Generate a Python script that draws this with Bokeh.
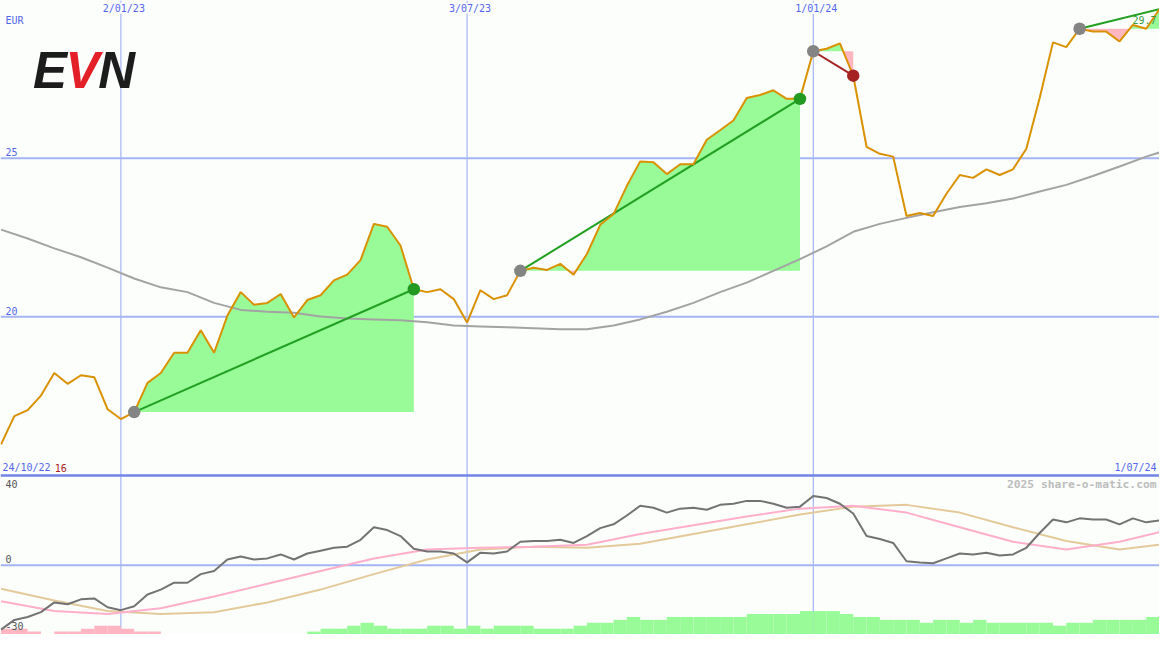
import numpy as np
import pandas as pd
from bokeh.plotting import figure
from bokeh.models import Range1d, Span, Label
from bokeh.embed import file_html
from bokeh.resources import INLINE

# ---------------- data ----------------
start_date = "2022-10-31"          # weekly closes (Mondays)
price = [15.98, 16.87, 17.06, 17.52, 18.23, 17.89, 18.16, 18.10, 17.09, 16.78,
         17.00, 17.92, 18.23, 18.87, 18.87, 19.58, 18.87, 20.04, 20.78, 20.38,
         20.44, 20.72, 19.98, 20.53, 20.68, 21.15, 21.33, 21.79, 22.93, 22.84,
         22.25, 20.87, 20.78, 20.87, 20.56, 19.82, 20.84, 20.56, 20.68, 21.45,
         21.55, 21.48, 21.67, 21.33, 21.98, 22.90, 23.24, 24.13, 24.90, 24.87,
         24.50, 24.81, 24.81, 25.58, 25.88, 26.19, 26.90, 26.99, 27.14, 26.87,
         26.87, 28.37, 28.45, 28.62, 27.60, 25.36, 25.14, 25.05, 23.18, 23.27,
         23.18, 23.88, 24.47, 24.38, 24.65, 24.47, 24.65, 25.30, 26.90, 28.65,
         28.50, 29.08, 28.99, 28.99, 28.68, 29.20, 29.08, 29.70]

# long moving average (every second week + last week)
ma = [22.75, 22.47, 22.16, 21.88, 21.55, 21.21, 20.93, 20.78, 20.44, 20.22,
      20.16, 20.13, 20.01, 19.95, 19.92, 19.89, 19.83, 19.73, 19.70, 19.67,
      19.64, 19.61, 19.61, 19.73, 19.92, 20.16, 20.44, 20.78, 21.08, 21.45,
      21.82, 22.22, 22.68, 22.93, 23.12, 23.30, 23.46, 23.58, 23.73, 23.95,
      24.16, 24.44, 24.74, 25.05, 25.18]

# trades
trade_start = ["2023-01-09", "2023-07-31", "2024-01-01", "2024-05-20"]
trade_end = ["2023-06-05", "2023-12-25", "2024-01-22", "2024-07-01"]
trade_result = ["win", "win", "loss", "open"]

# lower panel indicator (weekly)
osc = [-29.1, -24.7, -23.4, -21.2, -16.8, -17.6, -15.4, -15.0, -19.0, -20.3,
       -18.5, -13.2, -11.0, -7.9, -7.9, -4.0, -2.6, 2.6, 4.0, 2.6,
       3.1, 4.9, 2.6, 5.3, 6.6, 7.9, 8.4, 11.5, 17.2, 15.9,
       13.2, 7.5, 6.2, 6.2, 5.3, 1.3, 5.7, 5.3, 6.2, 10.6,
       11.0, 11.0, 11.5, 10.1, 13.2, 16.8, 18.5, 22.5, 26.9, 26.0,
       23.8, 25.6, 26.0, 25.1, 27.3, 27.8, 29.1, 29.1, 27.8, 26.0,
       26.5, 31.3, 30.4, 27.8, 23.4, 13.2, 11.9, 10.1, 1.8, 1.3,
       0.9, 3.1, 5.3, 4.9, 5.7, 4.4, 4.9, 7.9, 14.6, 20.7,
       19.4, 21.2, 20.7, 20.7, 18.5, 21.2, 19.4, 20.3]
# signal lines (every fourth week + last week)
sig_fast = [-16.3, -20.7, -22.0, -19.4, -14.1, -8.4, -2.6, 3.1, 7.1, 7.9, 8.4, 9.3,
            14.1, 18.1, 22.0, 25.6, 26.9, 23.8, 17.2, 10.6, 7.1, 10.6, 15.0]
sig_slow = [-10.6, -15.9, -20.7, -22.0, -21.2, -16.8, -11.0, -4.0, 2.6, 7.1, 8.4, 7.9,
            9.7, 14.1, 18.5, 22.9, 26.5, 27.3, 23.8, 17.2, 11.0, 7.1, 9.3]
# histogram (weekly, signed)
hist = [-2, -2, -1, 0, -1, -1, -2, -3, -3, -2, -1, -1,
        0, 0, 0, 0, 0, 0, 0, 0, 0, 0, 0,
        1, 2, 2, 3, 4, 3, 2, 2, 2, 3, 3, 2, 3, 2, 3, 3, 3, 2, 2, 2, 3, 4, 4, 5, 6, 5, 5,
        6, 6, 6, 6, 6, 6, 7, 7, 7, 7, 8, 8, 8, 7, 6, 6, 5, 5, 5, 4, 5, 5, 4, 5,
        4, 4, 4, 4, 4, 3, 4, 4, 5, 5, 5, 5, 6, 6]

grid_dates = ["2023-01-02", "2023-07-03", "2024-01-01"]
grid_labels = ["2/01/23", "3/07/23", "1/01/24"]
price_ticks = [25, 20]
ind_ticks = [40, 0, -30]
currency = "EUR"
period_start_label, period_end_label, n_label = "24/10/22", "1/07/24", "16"
last_label = "29.7"

# ---------------- helpers ----------------
def ms(d):
    return float(pd.Timestamp(d).value // 10**6)

WEEK = 7 * 86400000.0
dates = pd.date_range(start_date, periods=len(price), freq="7D")
xs = np.array([ms(d) for d in dates])
price_arr = np.array(price)
ma_x = list(xs[::2]) + [xs[-1]]
sig_x = list(xs[::4]) + [xs[-1]]

X0, X1 = xs[0] - 0.04 * WEEK, xs[-1]
Y0, Y1 = 9.99, 29.97
IND = (-31.3, 255.3)
HIST = (0, 216.67)

BG = "#FBFEFB"
GRID = "#A4B4F4"
BLUE_TXT = "#5566EE"
ORANGE = "#D99100"
GREEN_FILL = "#98FB98"
PINK_FILL = "#FFB6C1"

W, H = 1159, 634
p = figure(width=W, height=H, x_range=Range1d(X0, X1), y_range=Range1d(Y0, Y1),
           output_backend="svg", toolbar_location=None,
           x_axis_location=None, y_axis_location=None, min_border=0,
           background_fill_color=BG, border_fill_color=BG, outline_line_color=None)
p.grid.visible = False
p.extra_y_ranges = {"ind": Range1d(*IND), "hist": Range1d(*HIST)}

# reference-pixel -> data helpers for annotation placement
def PX(px):
    return X0 + px / 1175.0 * (X1 - X0)

def PY(py):
    return Y1 - py / 650.0 * (Y1 - Y0)

# ---------------- grid ----------------
for d in grid_dates:
    p.add_layout(Span(location=ms(d), dimension="height", line_color=GRID,
                      line_width=1.2, level="underlay"))
for t in price_ticks:
    p.add_layout(Span(location=t, dimension="width", line_color=GRID,
                      line_width=2, level="underlay"))
p.add_layout(Span(location=0, dimension="width", line_color=GRID, line_width=2,
                  y_range_name="ind", level="underlay"))

# ---------------- trade fills ----------------
def idx(d):
    return int(np.argmin(np.abs(xs - ms(d))))

for s_d, e_d, res in zip(trade_start, trade_end, trade_result):
    s, e = idx(s_d), idx(e_d)
    base = price_arr[s]
    fx, fy = [], []
    for k in range(s, e):
        fx.append(xs[k]); fy.append(price_arr[k])
        a, b = price_arr[k] - base, price_arr[k + 1] - base
        if a * b < 0:
            t = a / (a - b)
            fx.append(xs[k] + t * (xs[k + 1] - xs[k])); fy.append(base)
    fx.append(xs[e]); fy.append(price_arr[e])
    fy = np.array(fy)
    p.varea(x=fx, y1=base, y2=np.maximum(fy, base), fill_color=GREEN_FILL)
    p.varea(x=fx, y1=base, y2=np.minimum(fy, base), fill_color=PINK_FILL)

# ---------------- lower panel ----------------
hx = np.array(hist, dtype=float)
pos = hx > 0
neg = hx < 0
p.quad(left=xs[pos], right=xs[pos] + WEEK, bottom=0, top=hx[pos],
       fill_color=GREEN_FILL, line_color=None, y_range_name="hist")
p.quad(left=xs[neg], right=xs[neg] + WEEK, bottom=0, top=-hx[neg],
       fill_color=PINK_FILL, line_color=None, y_range_name="hist")
p.line(sig_x, sig_slow, line_color="#E4CA9A", line_width=2, y_range_name="ind")
p.line(sig_x, sig_fast, line_color="#FFAECB", line_width=2, y_range_name="ind")
p.line(xs, osc, line_color="#737373", line_width=2, y_range_name="ind")

# panel separator
p.add_layout(Span(location=15, dimension="width", line_color="#7384E6", line_width=2.5))

# ---------------- main lines ----------------
p.line(ma_x, ma, line_color="#A3A3A3", line_width=2)

for s_d, e_d, res in zip(trade_start, trade_end, trade_result):
    s, e = idx(s_d), idx(e_d)
    col = "#A52222" if res == "loss" else "#22A022"
    p.line([xs[s], xs[e]], [price_arr[s], price_arr[e]], line_color=col, line_width=2)

p.line(xs, price, line_color=ORANGE, line_width=2)

for s_d, e_d, res in zip(trade_start, trade_end, trade_result):
    s, e = idx(s_d), idx(e_d)
    p.scatter([xs[s]], [price_arr[s]], size=12.5, fill_color="#848484", line_color=None)
    if res != "open":
        col = "#A52222" if res == "loss" else "#229A22"
        p.scatter([xs[e]], [price_arr[e]], size=12.5, fill_color=col, line_color=None)

# ---------------- texts ----------------
MONO = "DejaVu Sans Mono"

def lab(text, px, py, color, size=10, align="left", baseline="middle",
        font=MONO, style="normal", bg=None):
    p.add_layout(Label(x=PX(px), y=PY(py), text=text, text_color=color,
                       text_font_size=f"{size}px", text_align=align,
                       text_baseline=baseline, text_font=font,
                       text_font_style=style, background_fill_color=bg,
                       x_offset=0, y_offset=0))

lab(currency, 5, 20, BLUE_TXT)
for d, t in zip(grid_dates, grid_labels):
    lx = (ms(d) - X0) / (X1 - X0) * 1175 + 3
    lab(t, lx, 8, BLUE_TXT, align="center", bg=BG)
for t in price_ticks:
    py = (Y1 - t) / (Y1 - Y0) * 650 - 6
    lab(str(t), 5, py, BLUE_TXT)
lab(period_start_label, 2, 479, BLUE_TXT)
lab(n_label, 55, 479, "#A82020")
lab(period_end_label, 1172, 479, BLUE_TXT, align="right")
lab("2025 share-o-matic.com", 1172, 496, "#BDBDBD", size=11.3, align="right", style="bold")
lab("40", 5, 496, "#555555")
lab("0", 5, 573, "#555555")
lab("-30", 5, 641, "#555555")
lab(last_label, 1172, 20, "#3C9C3C", align="right")

# logo
LOGO = "Liberation Sans"
lab("E", 33, 72, "#1C1C1C", size=51, baseline="alphabetic", font=LOGO, style="bold italic")
lab("V", 66, 72, "#E32028", size=51, baseline="alphabetic", font=LOGO, style="bold italic")
lab("N", 99, 72, "#1C1C1C", size=51, baseline="alphabetic", font=LOGO, style="bold italic")

open("out.html", "w").write(file_html(p, INLINE))
